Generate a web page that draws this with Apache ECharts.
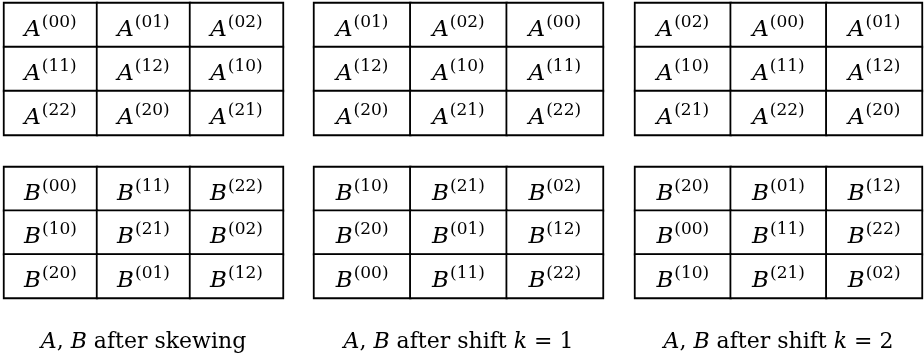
<!DOCTYPE html>
<html>
<head>
<meta charset="utf-8">
<script src="https://cdn.jsdelivr.net/npm/echarts@6/dist/echarts.min.js"></script>
<style>
  html, body { margin: 0; padding: 0; background: #fff; }
  #chart { width: 924px; height: 364px; }
</style>
</head>
<body>
<div id="chart"></div>
<script>
// block indices, one row per table row
const idx = ['0', '1', '2']
const aSkew = [['00', '01', '02'], ['11', '12', '10'], ['22', '20', '21']]
const aShift1 = [['01', '02', '00'], ['12', '10', '11'], ['20', '21', '22']]
const aShift2 = [['02', '00', '01'], ['10', '11', '12'], ['21', '22', '20']]
const bSkew = [['00', '11', '22'], ['10', '21', '02'], ['20', '01', '12']]
const bShift1 = [['10', '21', '02'], ['20', '01', '12'], ['00', '11', '22']]
const bShift2 = [['20', '01', '12'], ['00', '11', '22'], ['10', '21', '02']]
const captions = [
  '{i|A}, {i|B} after skewing',
  '{i|A}, {i|B} after shift {i|k} = 1',
  '{i|A}, {i|B} after shift {i|k} = 2'
]

const FONT = 'DejaVu Serif'

// layout of the six tables
const colLeft = [4, 314, 635]
const colWidth = [279, 289, 287]
const rowTop = [3, 167]
const rowHeight = [132, 131]

const tables = [
  { letter: 'A', cells: aSkew, c: 0, r: 0 },
  { letter: 'A', cells: aShift1, c: 1, r: 0 },
  { letter: 'A', cells: aShift2, c: 2, r: 0 },
  { letter: 'B', cells: bSkew, c: 0, r: 1 },
  { letter: 'B', cells: bShift1, c: 1, r: 1 },
  { letter: 'B', cells: bShift2, c: 2, r: 1 }
]

const toData = (cells) => {
  const out = []
  cells.forEach((row, y) => row.forEach((v, x) => out.push([x, y, v])))
  return out
}

const chart = echarts.init(document.getElementById('chart'))

const option = {
  backgroundColor: '#fff',
  animation: false,
  title: captions.map((t, i) => ({
    text: t,
    left: colLeft[i] + colWidth[i] / 2,
    top: 331,
    padding: 0,
    textAlign: 'center',
    textStyle: {
      fontFamily: FONT,
      fontSize: 22,
      fontWeight: 'normal',
      color: '#000',
      lineHeight: 22,
      rich: {
        i: { fontFamily: FONT, fontSize: 22, fontStyle: 'italic', color: '#000', lineHeight: 22 }
      }
    }
  })),
  grid: tables.map(t => ({
    left: colLeft[t.c],
    top: rowTop[t.r],
    width: colWidth[t.c],
    height: rowHeight[t.r],
    containLabel: false
  })),
  xAxis: tables.map((t, i) => ({
    type: 'category',
    gridIndex: i,
    data: idx,
    show: false
  })),
  yAxis: tables.map((t, i) => ({
    type: 'category',
    gridIndex: i,
    data: idx,
    inverse: true,
    show: false
  })),
  series: tables.map((t, i) => ({
    type: 'heatmap',
    xAxisIndex: i,
    yAxisIndex: i,
    data: toData(t.cells),
    itemStyle: {
      color: '#fff',
      borderColor: '#000',
      borderWidth: 1.8
    },
    emphasis: { disabled: true },
    label: {
      show: true,
      offset: [0, 5],
      formatter: (p) => `{m|${t.letter}}{s|(${p.data[2]})}`,
      rich: {
        m: { fontFamily: FONT, fontStyle: 'italic', fontSize: 23, color: '#000' },
        s: { fontFamily: FONT, fontSize: 17, color: '#000', padding: [0, 0, 15, 1] }
      }
    }
  }))
}

chart.setOption(option)
window.addEventListener('resize', () => chart.resize())
</script>
</body>
</html>
